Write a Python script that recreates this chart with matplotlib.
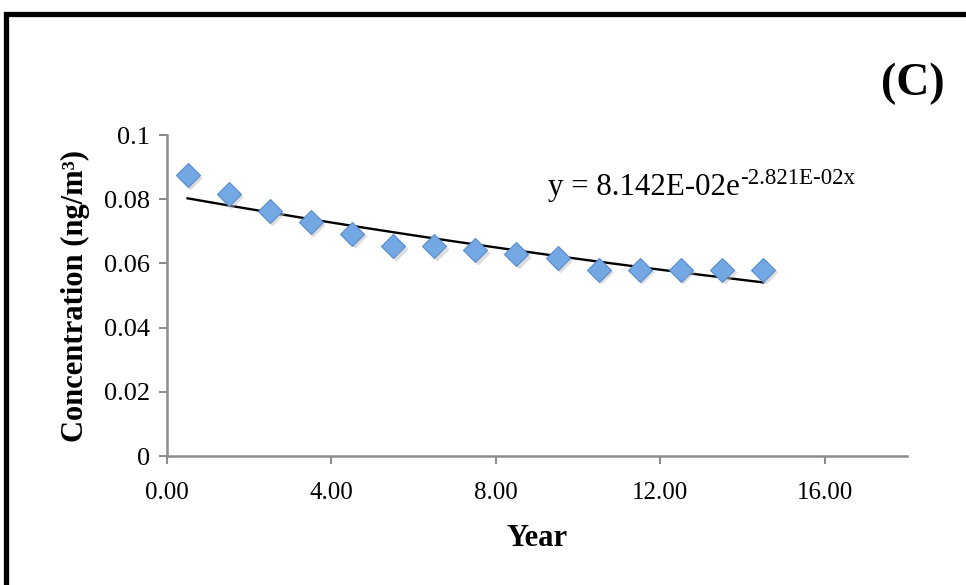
import numpy as np
import matplotlib
matplotlib.use("Agg")
import matplotlib.pyplot as plt
from matplotlib.patches import Rectangle

# ---- data ----
years = [0.5, 1.5, 2.5, 3.5, 4.5, 5.5, 6.5, 7.5, 8.5, 9.5, 10.5, 11.5, 12.5, 13.5, 14.5]
conc = [0.0875, 0.0816, 0.0763, 0.0729, 0.0692, 0.0654, 0.0654, 0.0642, 0.0629,
        0.0617, 0.0580, 0.0580, 0.0580, 0.0580, 0.0580]
fit_a = 8.142e-02
fit_b = -2.821e-02
xticks = [0, 4, 8, 12, 16]
xticklabels = ["0.00", "4.00", "8.00", "12.00", "16.00"]
yticks = [0, 0.02, 0.04, 0.06, 0.08, 0.1]
yticklabels = ["0", "0.02", "0.04", "0.06", "0.08", "0.1"]

plt.rcParams['font.family'] = ['Liberation Serif', 'DejaVu Serif']

fig = plt.figure(figsize=(9.66, 5.85), dpi=100)
ax = fig.add_axes([0.1729, 0.2205, 0.939 - 0.1729, 0.7692 - 0.2205])

# trend line
xf = np.linspace(min(years), max(years), 200)
ax.plot(xf, fit_a * np.exp(fit_b * xf), color='black', lw=1.7, zorder=2)

# shadow + markers
ax.plot(np.array(years) + 0.06, np.array(conc) - 0.0008, 'D', ms=12.5,
        color='#bbbbbb', alpha=0.5, mec='none', zorder=2.5)
ax.plot(years, conc, 'D', ms=12.5, color='#74a8e4', mec='#5a8ccc', mew=0.8, zorder=3)

ax.set_xlim(0, 18)
ax.set_ylim(0, 0.1)
ax.set_xticks(xticks)
ax.set_xticklabels(xticklabels, fontsize=18)
ax.set_yticks(yticks)
ax.set_yticklabels(yticklabels, fontsize=19)

gray = '#8c8c8c'
for s in ['top', 'right']:
    ax.spines[s].set_visible(False)
for s in ['left', 'bottom']:
    ax.spines[s].set_color(gray)
    ax.spines[s].set_linewidth(1.8)
ax.tick_params(axis='both', direction='out', length=6, width=1.5, color=gray,
               labelcolor='black')
ax.tick_params(axis='x', pad=13)
ax.tick_params(axis='y', pad=6)

ax.set_xlabel('Year', fontsize=22, fontweight='bold', labelpad=14)
ax.set_ylabel('Concentration (ng/m³)', fontsize=22, fontweight='bold', labelpad=10)

# equation
t = ax.text(548 / 966, 1 - 195 / 585, 'y = 8.142E-02e', transform=fig.transFigure,
            fontsize=22.3, ha='left', va='baseline')
ax.annotate('-2.821E-02x', xy=(1.0, 0.62), xycoords=t, fontsize=16.5,
            ha='left', va='baseline')

# panel label
fig.text(0.978, 0.838, '(C)', fontsize=33, fontweight='bold', ha='right', va='baseline')

# border frame
fig.patches.append(Rectangle((5.5 / 966, -0.1), 1.2, 1.1 - 14.5 / 585,
                             transform=fig.transFigure, fill=False,
                             edgecolor='black', lw=3.8, zorder=10))

fig.savefig('out.png', dpi=100)
